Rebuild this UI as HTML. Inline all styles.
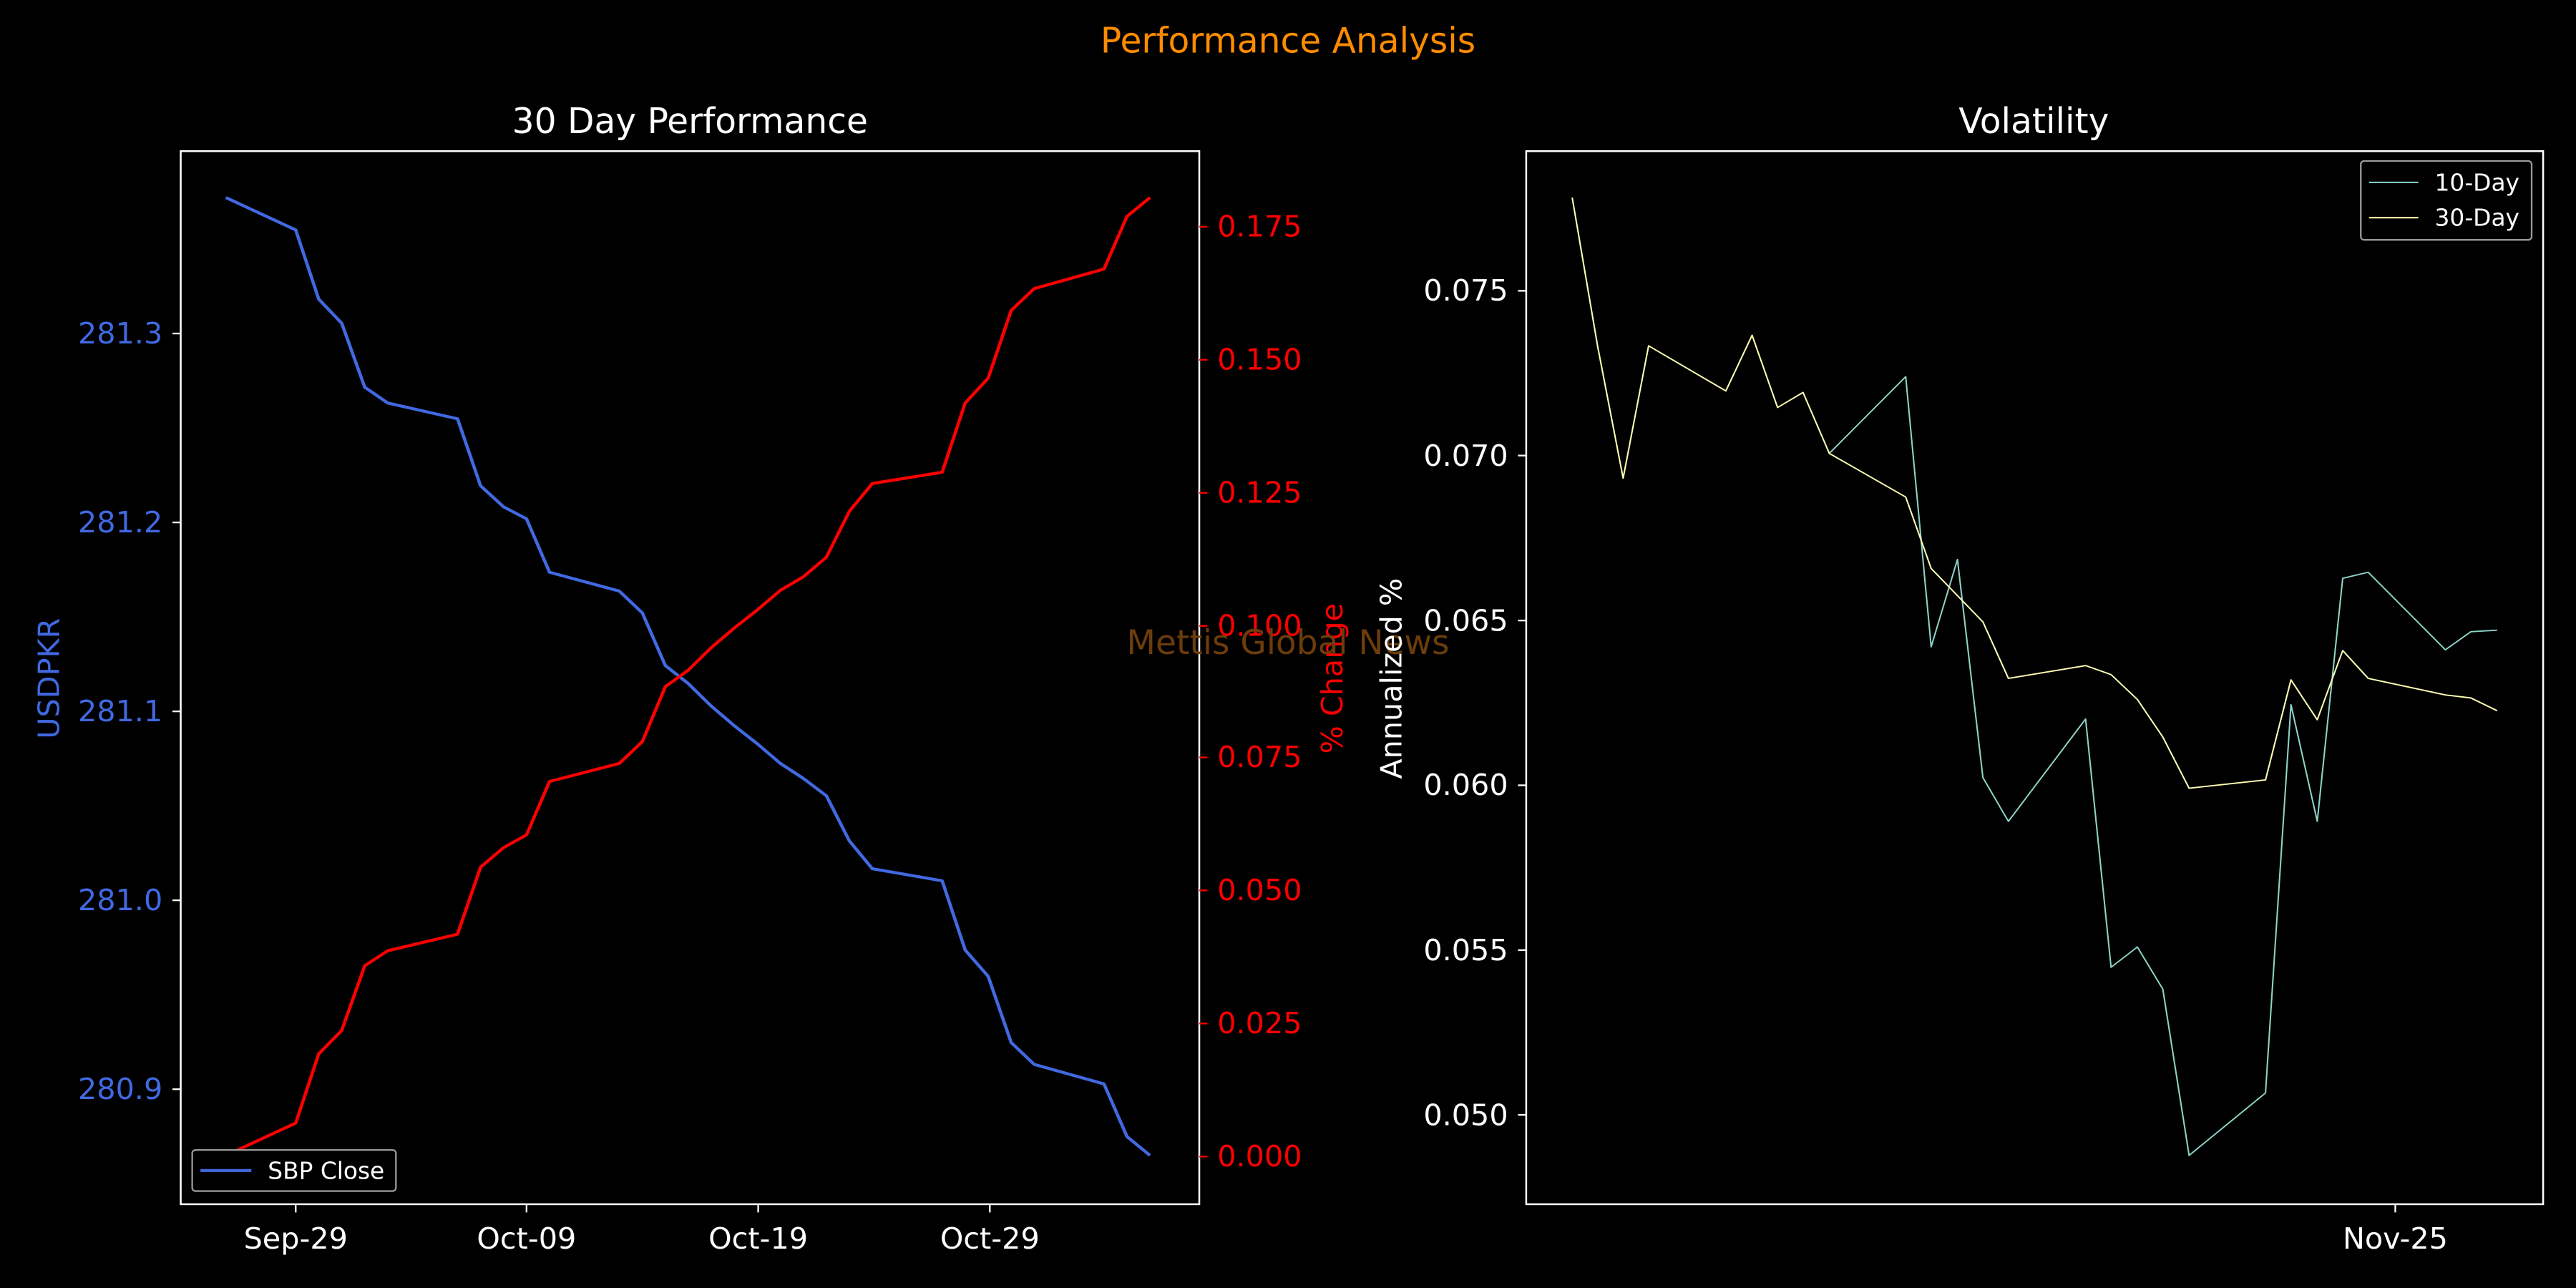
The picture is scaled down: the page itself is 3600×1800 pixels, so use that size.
<!DOCTYPE html>
<html><head><meta charset="utf-8"><style>
html,body{margin:0;padding:0;background:#000;}
svg{display:block;}
text{font-family:"DejaVu Sans","Liberation Sans",sans-serif;}
</style></head><body>
<svg width="3600" height="1800" viewBox="0 0 1568 784" xmlns="http://www.w3.org/2000/svg">
<rect width="1568" height="784" fill="#000"/>
<text x="784" y="32" font-size="21.2" fill="#ff8c00" text-anchor="middle">Performance Analysis</text>
<text x="420" y="81" font-size="21.2" fill="#fff" text-anchor="middle">30 Day Performance</text>
<text x="1238" y="81" font-size="21.2" fill="#fff" text-anchor="middle">Volatility</text>

<!-- Left panel -->
<g transform="translate(0,65.3) scale(0.5,0.458)" fill="none" stroke-linejoin="round">
<polyline stroke="#4169e1" stroke-width="4" points="275,120 360,163 388,255 416,287 444,372 472,393 557,414 585,503 613,531 641,547 669,618 754,643 782,672 810,742 838,766 866,796 894,822 922,846 950,872 978,892 1006,915 1034,975 1062,1012 1147,1028 1175,1120 1203,1155 1231,1243 1259,1272 1344,1298 1372,1368 1400,1393"/>
<polyline stroke="#ff0000" stroke-width="4" points="275,1393 360,1350 388,1258 416,1227 444,1141 472,1121 557,1099 585,1010 613,984 641,967 669,896 754,872 782,843 810,770 838,748 866,718 894,692 922,668 950,642 978,624 1006,598 1034,537 1062,500 1147,485 1175,393 1203,360 1231,270 1259,241 1344,215 1372,145 1400,120"/>
</g>
<rect x="110" y="92" width="620" height="641" fill="none" stroke="#fff" stroke-width="1.1"/>
<g stroke="#fff" stroke-width="1">
<line x1="105" y1="203" x2="110" y2="203"/><line x1="105" y1="318" x2="110" y2="318"/><line x1="105" y1="433" x2="110" y2="433"/><line x1="105" y1="548" x2="110" y2="548"/><line x1="105" y1="663" x2="110" y2="663"/>
<line x1="180" y1="733" x2="180" y2="738"/><line x1="320.5" y1="733" x2="320.5" y2="738"/><line x1="461.5" y1="733" x2="461.5" y2="738"/><line x1="602.5" y1="733" x2="602.5" y2="738"/>
</g>
<g stroke="#ff0000" stroke-width="1">
<line x1="730" y1="138" x2="735" y2="138"/><line x1="730" y1="219" x2="735" y2="219"/><line x1="730" y1="300" x2="735" y2="300"/><line x1="730" y1="381" x2="735" y2="381"/><line x1="730" y1="461" x2="735" y2="461"/><line x1="730" y1="542" x2="735" y2="542"/><line x1="730" y1="623" x2="735" y2="623"/><line x1="730" y1="704" x2="735" y2="704"/>
</g>
<g font-size="18" fill="#4169e1" text-anchor="end">
<text x="99" y="209">281.3</text><text x="99" y="324">281.2</text><text x="99" y="439">281.1</text><text x="99" y="554">281.0</text><text x="99" y="669">280.9</text>
</g>
<g font-size="18" fill="#ff0000">
<text x="741" y="144">0.175</text><text x="741" y="225">0.150</text><text x="741" y="306">0.125</text><text x="741" y="387">0.100</text><text x="741" y="467">0.075</text><text x="741" y="548">0.050</text><text x="741" y="629">0.025</text><text x="741" y="710">0.000</text>
</g>
<g font-size="18" fill="#fff" text-anchor="middle">
<text x="180" y="760">Sep-29</text><text x="320.5" y="760">Oct-09</text><text x="461.5" y="760">Oct-19</text><text x="602.5" y="760">Oct-29</text>
</g>
<text transform="translate(36,413) rotate(-90)" font-size="18" fill="#4169e1" text-anchor="middle">USDPKR</text>
<text transform="translate(817,413) rotate(-90)" font-size="18" fill="#ff0000" text-anchor="middle">% Change</text>
<rect x="117" y="700" width="124" height="25" rx="2" fill="#000" stroke="#999" stroke-width="1"/>
<line x1="122" y1="712.5" x2="153" y2="712.5" stroke="#4169e1" stroke-width="1.8"/>
<text x="163" y="717.5" font-size="14.3" fill="#fff">SBP Close</text>
<text x="784" y="398" font-size="20.5" fill="#6b3c0c" text-anchor="middle">Mettis Global News</text>

<!-- Right panel -->
<g transform="translate(784,65.3) scale(0.5,0.458)" fill="none" stroke-linejoin="round">
<polyline stroke="#8dd3c7" stroke-width="1.8" points="659,460 752,358 783,717 815,601 846,891 877,949 971,813 1002,1143 1034,1116 1065,1172 1097,1393 1190,1310 1221,794 1253,949 1284,626 1315,618 1409,721 1440,697 1472,695"/>
<polyline stroke="#ffffb3" stroke-width="1.8" points="346,120 377,318 408,493 439,317 533,377 565,303 596,399 627,379 659,460 752,518 783,613 815,649 846,684 877,759 971,742 1002,754 1034,787 1065,837 1097,905 1190,894 1221,761 1253,814 1284,722 1315,759 1409,781 1440,785 1472,802"/>
</g>
<rect x="929" y="92" width="619" height="641" fill="none" stroke="#fff" stroke-width="1.1"/>
<g stroke="#fff" stroke-width="1">
<line x1="924" y1="177" x2="929" y2="177"/><line x1="924" y1="277.3" x2="929" y2="277.3"/><line x1="924" y1="377.7" x2="929" y2="377.7"/><line x1="924" y1="478" x2="929" y2="478"/><line x1="924" y1="578.3" x2="929" y2="578.3"/><line x1="924" y1="678.6" x2="929" y2="678.6"/>
<line x1="1458" y1="733" x2="1458" y2="738"/>
</g>
<g font-size="18" fill="#fff" text-anchor="end">
<text x="918" y="183">0.075</text><text x="918" y="283.5">0.070</text><text x="918" y="384">0.065</text><text x="918" y="484">0.060</text><text x="918" y="584.5">0.055</text><text x="918" y="685">0.050</text>
</g>
<text x="1458" y="760" font-size="18" fill="#fff" text-anchor="middle">Nov-25</text>
<text transform="translate(853,413) rotate(-90)" font-size="18" fill="#fff" text-anchor="middle">Annualized %</text>
<rect x="1437" y="98" width="104" height="48" rx="2" fill="#000" stroke="#999" stroke-width="1"/>
<line x1="1442" y1="111" x2="1472" y2="111" stroke="#8dd3c7" stroke-width="0.9"/>
<line x1="1442" y1="132.5" x2="1472" y2="132.5" stroke="#ffffb3" stroke-width="0.9"/>
<text x="1482" y="116" font-size="14.3" fill="#fff">10-Day</text>
<text x="1482" y="137.5" font-size="14.3" fill="#fff">30-Day</text>
</svg>
</body></html>
